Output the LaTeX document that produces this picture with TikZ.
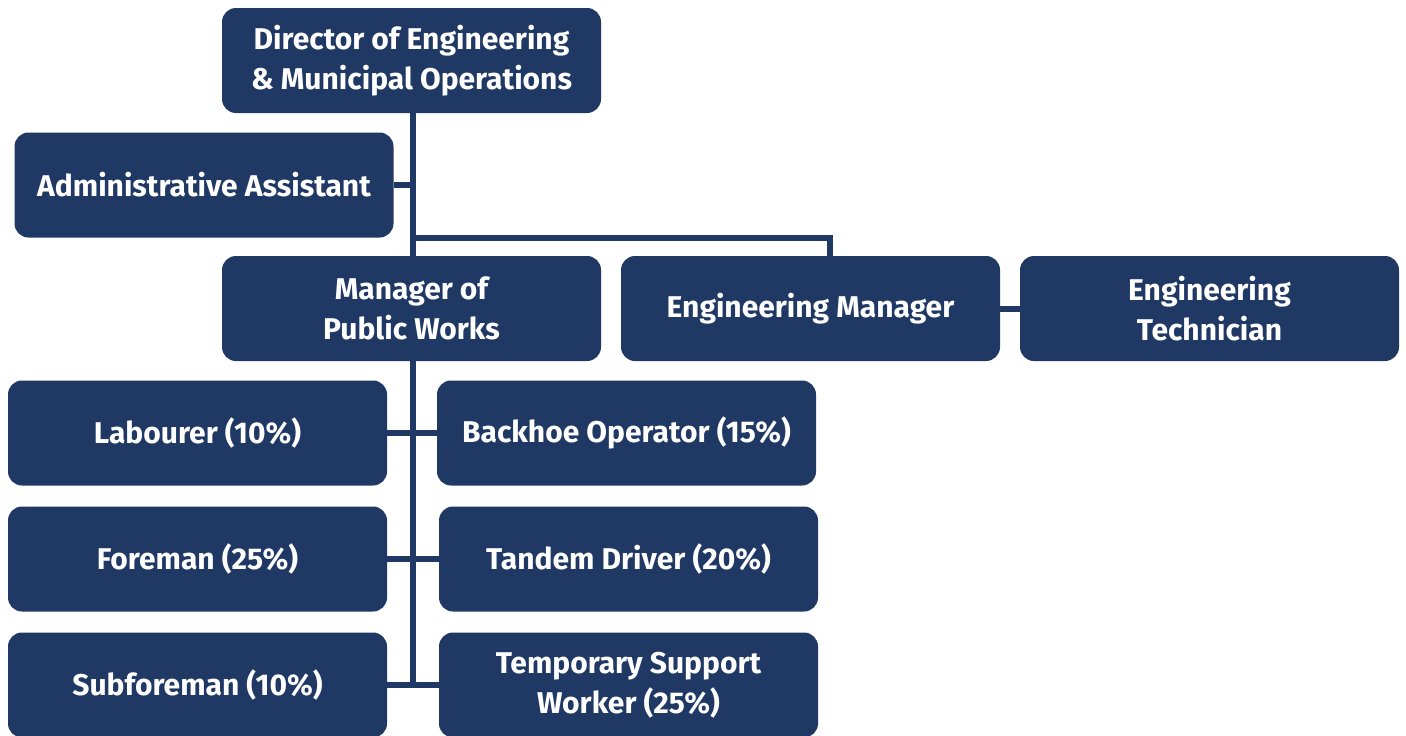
\documentclass[tikz,border=0pt]{standalone}
\usepackage{fontspec}
\setmainfont{Fira Sans}
\usetikzlibrary{backgrounds}
\definecolor{navy}{HTML}{1F3864}
\begin{document}
\begin{tikzpicture}[x=1pt,y=-1pt,
  box/.style={fill=navy, rounded corners=14pt, minimum width=379pt, minimum height=105pt,
    text=white, font=\fontsize{30}{40}\selectfont\bfseries, align=center, inner sep=0pt},
  link/.style={draw=navy, line width=6pt}]
\useasboundingbox (0,0) rectangle (1406,736);
\node[box] (dir) at (411.5,60.5) {Director of Engineering\\\& Municipal Operations};
\node[box] (adm) at (204,185) {Administrative Assistant};
\node[box] (mpw) at (411.5,308.5) {Manager of\\Public Works};
\node[box] (em) at (810.5,308.5) {Engineering Manager};
\node[box] (et) at (1209.5,308.5) {Engineering\\Technician};
\node[box] (lab) at (197.5,433) {Labourer (10\%)};
\node[box] (bho) at (626.5,433) {Backhoe Operator (15\%)};
\node[box] (fore) at (197.5,559) {Foreman (25\%)};
\node[box] (tan) at (628.5,559) {Tandem Driver (20\%)};
\node[box] (sub) at (197.5,685) {Subforeman (10\%)};
\node[box] (tmp) at (628.5,685) {Temporary Support\\Worker (25\%)};
\coordinate (tbot) at (413,685);
\coordinate (tadm) at (413,185);
\coordinate (tbr) at (413,238);
\coordinate (ebr) at (830,238);
\coordinate (etop) at (830,256);
\begin{pgfonlayer}{background}
\draw[link] (dir.south -| tbot) -- (tbot);
\draw[link] (adm.east) -- (tadm);
\draw[link] (tbr) -- (ebr) -- (etop);
\draw[link] (em.east) -- (et.west);
\draw[link] (lab.east) -- (bho.west);
\draw[link] (fore.east) -- (tan.west);
\draw[link] (sub.east) -- (tmp.west);
\end{pgfonlayer}
\end{tikzpicture}
\end{document}
